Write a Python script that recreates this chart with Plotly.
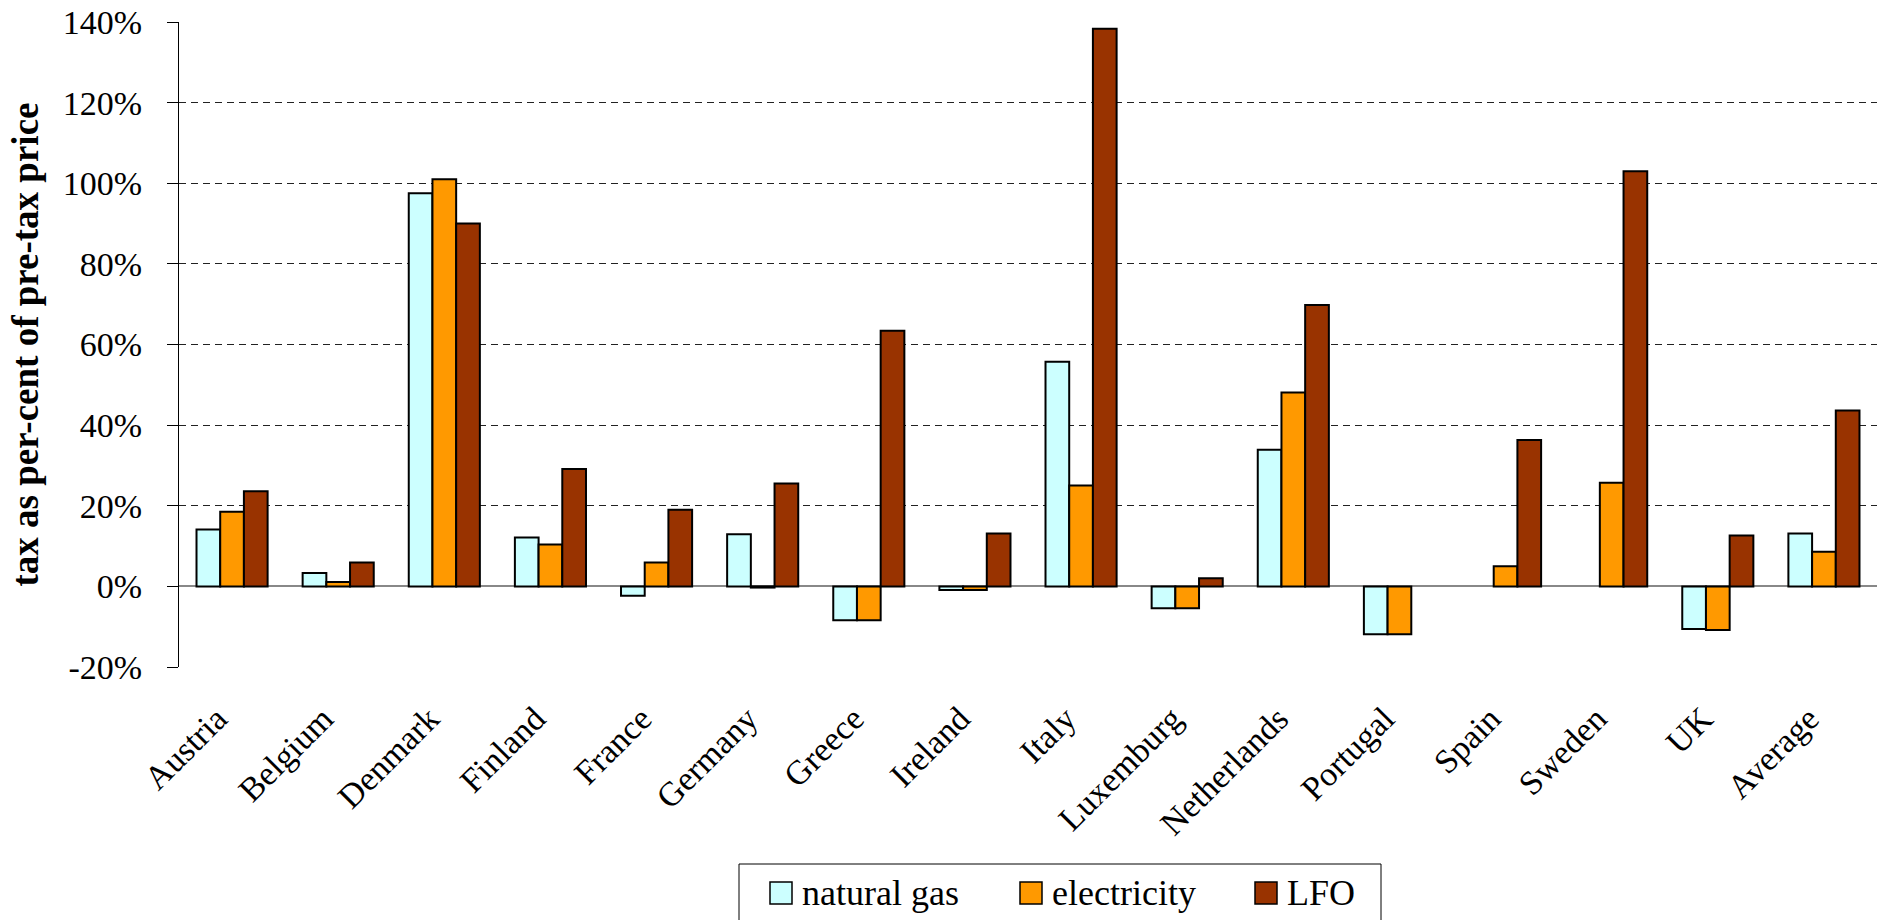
import plotly.graph_objects as go

# Tax as a share of the pre-tax price, by country and energy carrier (in %)
countries = ["Austria", "Belgium", "Denmark", "Finland", "France", "Germany", "Greece",
             "Ireland", "Italy", "Luxemburg", "Netherlands", "Portugal", "Spain",
             "Sweden", "UK", "Average"]
natural_gas = [14.1, 3.3, 97.5, 12.1, -2.3, 12.9, -8.4, -0.9, 55.7, -5.4, 33.9, -11.9,
               None, None, -10.6, 13.1]
electricity = [18.5, 1.1, 101.0, 10.4, 5.9, -0.3, -8.4, -0.9, 25.0, -5.4, 48.1, -11.9,
               5.0, 25.7, -10.8, 8.6]
lfo = [23.6, 5.9, 90.0, 29.1, 19.0, 25.5, 63.4, 13.1, 138.3, 2.0, 69.8, None,
       36.3, 103.0, 12.6, 43.6]

series_names = ["natural gas", "electricity", "LFO"]
series_colors = ["#CCFFFF", "#FF9900", "#993300"]
y_ticks = [-20, 0, 20, 40, 60, 80, 100, 120, 140]
y_tick_labels = [f"{v}%" for v in y_ticks]

W, H = 1881, 920
ML, MR, MT, MB = 179, 4, 22, 253
PW, PH = W - ML - MR, H - MT - MB
SERIF = "Liberation Serif, Times New Roman, serif"


def px_x(px):
    return (px - ML) / PW


def px_y(py):
    return (H - MB - py) / PH


fig = go.Figure()
for name, vals, col in zip(series_names, [natural_gas, electricity, lfo], series_colors):
    fig.add_trace(go.Bar(
        x=countries, y=vals, name=name,
        marker=dict(color=col, line=dict(color="black", width=2)),
        showlegend=False,
    ))

fig.update_layout(
    width=W, height=H,
    margin=dict(l=ML, r=MR, t=MT, b=MB, autoexpand=False),
    paper_bgcolor="white", plot_bgcolor="white",
    barmode="group", bargap=0.33, bargroupgap=0,
    font=dict(family=SERIF, color="black"),
    xaxis=dict(
        type="category", categoryorder="array", categoryarray=countries,
        range=[-0.5, len(countries) - 0.5],
        showline=False, showgrid=False, zeroline=False, ticks="",
        tickangle=-45, tickfont=dict(family=SERIF, size=34, color="black"),
        ticklabelstandoff=24, ticklabelshift=-15,
    ),
    # category boundary ticks sitting on the 0% line
    xaxis2=dict(
        overlaying="x", anchor="free", position=20 / 160, side="bottom",
        range=[-0.5, len(countries) - 0.5],
        tickmode="linear", tick0=-0.5, dtick=1,
        ticks="inside", ticklen=10, tickwidth=1, tickcolor="#555",
        showticklabels=False, showgrid=False, showline=False, zeroline=False,
    ),
    yaxis=dict(
        range=[-20, 140], tickmode="array", tickvals=y_ticks, ticktext=y_tick_labels,
        showgrid=True, gridcolor="#222", gridwidth=1, griddash="7px,5px",
        zeroline=True, zerolinecolor="#888", zerolinewidth=1.5,
        showline=True, linecolor="black", linewidth=1,
        ticks="outside", ticklen=11, tickwidth=1, tickcolor="black",
        tickfont=dict(family=SERIF, size=34, color="black"),
        ticklabelstandoff=18,
        title=dict(text="tax as per-cent of pre-tax price",
                   font=dict(family=SERIF, size=37, color="black", weight="bold"),
                   standoff=12),
    ),
)

# legend box with swatches
shapes = [dict(type="rect", xref="paper", yref="paper",
               x0=px_x(739), x1=px_x(1381), y0=px_y(940), y1=px_y(864),
               line=dict(color="black", width=1), fillcolor="white", layer="above")]
annotations = []
swatch_x = [770, 1020, 1255]
for name, col, sx in zip(series_names, series_colors, swatch_x):
    shapes.append(dict(type="rect", xref="paper", yref="paper",
                       x0=px_x(sx), x1=px_x(sx + 22), y0=px_y(904), y1=px_y(882),
                       line=dict(color="black", width=1.5), fillcolor=col, layer="above"))
    annotations.append(dict(xref="paper", yref="paper", x=px_x(sx + 30), y=px_y(893),
                            xanchor="left", yanchor="middle", showarrow=False,
                            text=name, font=dict(family=SERIF, size=36, color="black")))
fig.update_layout(shapes=shapes, annotations=annotations)

fig.write_html("out.html")
